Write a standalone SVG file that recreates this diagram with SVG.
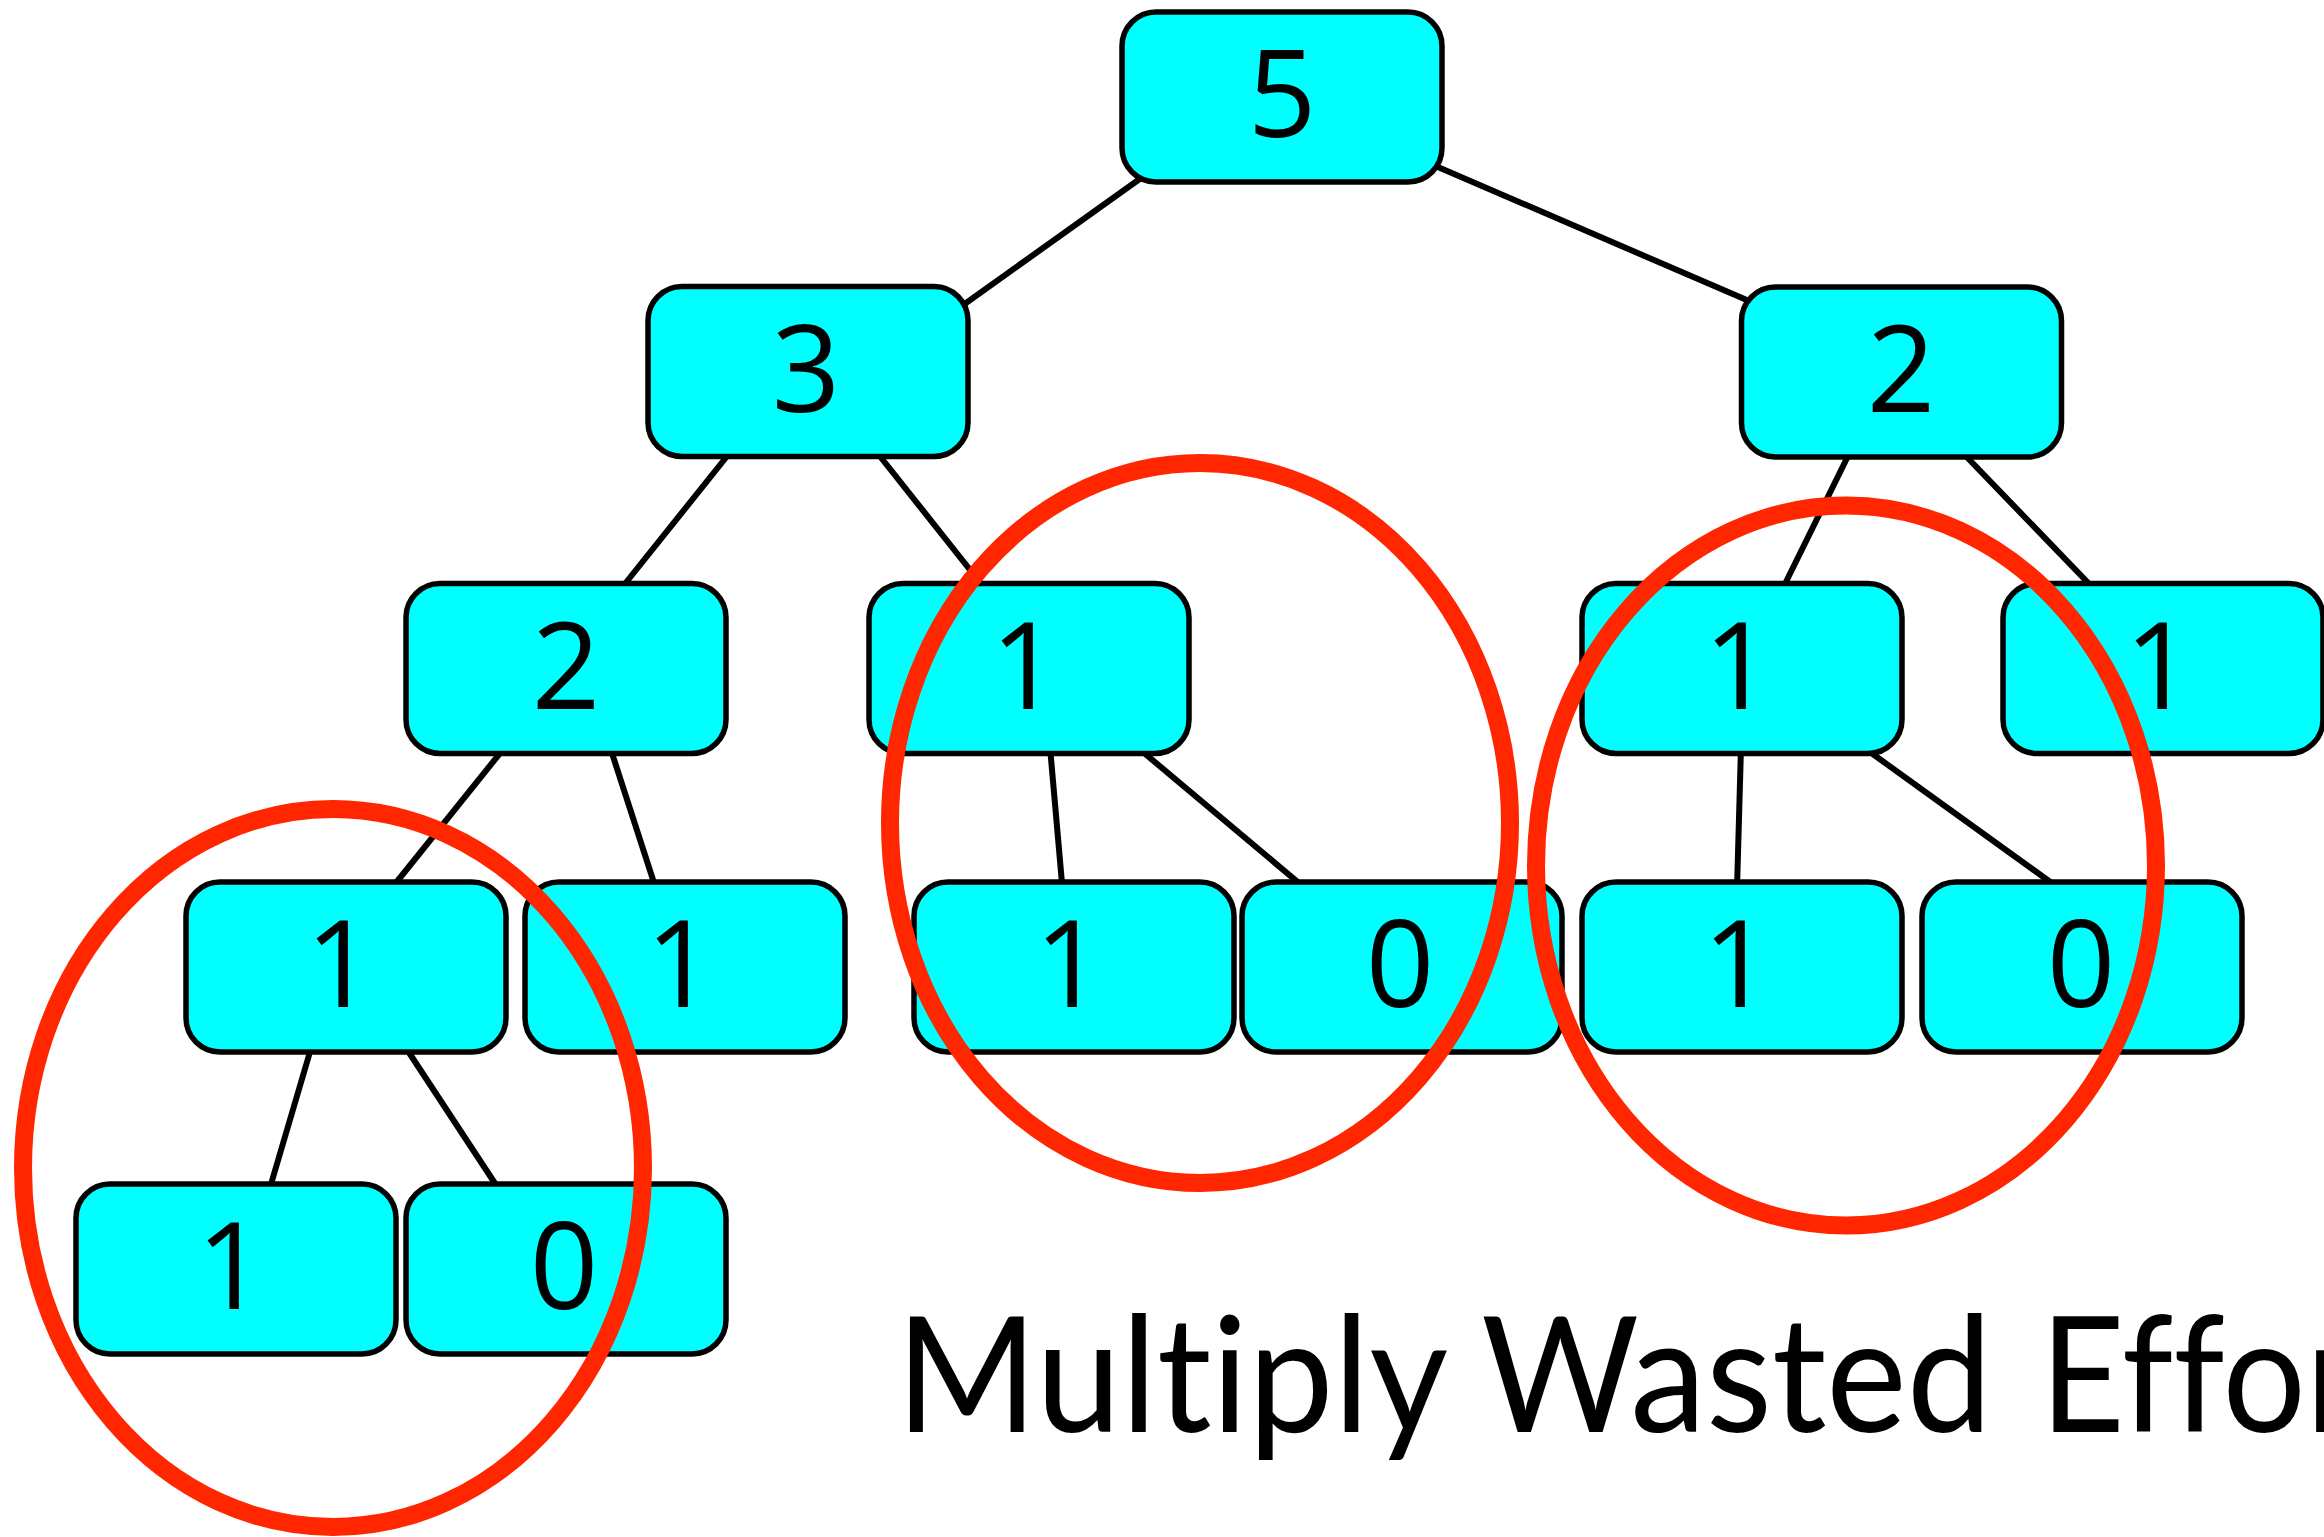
<svg xmlns="http://www.w3.org/2000/svg" width="2324" height="1537" viewBox="0 0 2324 1537">
  <style>
    .box { fill: #00ffff; stroke: #000; stroke-width: 5.5; }
    .num { font-family: "Open Sans", "Noto Sans", "DejaVu Sans", sans-serif; font-size: 120px; fill: #000; text-anchor: middle; }
    .edge { stroke: #000; stroke-width: 6; stroke-linecap: butt; fill: none; }
    .ring { fill: none; stroke: #ff2600; stroke-width: 18; }
    .title { font-family: "Lato", "Liberation Sans", sans-serif; font-size: 162px; fill: #000; font-variant-ligatures: none; }
  </style>
  <rect width="2324" height="1537" fill="#fff"/>

  <!-- tree edges, drawn beneath the boxes -->
  <g id="connectors">
    <line class="edge" x1="1160" y1="164.5" x2="945" y2="318"/>
    <line class="edge" x1="1410" y1="155" x2="1770" y2="310"/>
    <line class="edge" x1="732" y1="450" x2="620" y2="590"/>
    <line class="edge" x1="875" y1="450" x2="986" y2="590"/>
    <line class="edge" x1="1851" y1="450" x2="1782" y2="590"/>
    <line class="edge" x1="1960" y1="450" x2="2095" y2="590"/>
    <line class="edge" x1="505" y1="747" x2="391" y2="889"/>
    <line class="edge" x1="610" y1="747" x2="656" y2="889"/>
    <line class="edge" x1="1050" y1="747" x2="1062.5" y2="889"/>
    <line class="edge" x1="1137" y1="747" x2="1306" y2="889"/>
    <line class="edge" x1="1741" y1="747" x2="1737" y2="889"/>
    <line class="edge" x1="1863" y1="747" x2="2060" y2="889"/>
    <line class="edge" x1="312" y1="1045" x2="269" y2="1191"/>
    <line class="edge" x1="404" y1="1045" x2="500" y2="1191"/>
  </g>

  <!-- level 0 -->
  <g id="n5"><rect class="box" x="1122" y="12" width="320" height="170" rx="34"/><text class="num" x="1282" y="137">5</text></g>
  <!-- level 1 -->
  <g id="n3"><rect class="box" x="648" y="286.5" width="320" height="170" rx="34"/><text class="num" x="806" y="411.5">3</text></g>
  <g id="n2r"><rect class="box" x="1741.5" y="287" width="320" height="170" rx="34"/><text class="num" x="1901" y="412">2</text></g>
  <!-- level 2 -->
  <g id="n2l"><rect class="box" x="406" y="583.5" width="320" height="170" rx="34"/><text class="num" x="566" y="708.5">2</text></g>
  <g id="n1a"><rect class="box" x="869" y="583.5" width="320" height="170" rx="34"/><text class="num" x="1025" y="708.5">1</text></g>
  <g id="n1b"><rect class="box" x="1582" y="583.5" width="320" height="170" rx="34"/><text class="num" x="1738" y="708.5">1</text></g>
  <g id="n1c"><rect class="box" x="2003" y="583.5" width="320" height="170" rx="34"/><text class="num" x="2159" y="708.5">1</text></g>
  <!-- level 3 -->
  <g id="n1d"><rect class="box" x="186" y="882" width="320" height="170" rx="34"/><text class="num" x="340" y="1007">1</text></g>
  <g id="n1e"><rect class="box" x="525" y="882" width="320" height="170" rx="34"/><text class="num" x="680" y="1007">1</text></g>
  <g id="n1f"><rect class="box" x="914" y="882" width="320" height="170" rx="34"/><text class="num" x="1069" y="1007">1</text></g>
  <g id="n0a"><rect class="box" x="1242" y="882" width="320" height="170" rx="34"/><text class="num" x="1400" y="1007">0</text></g>
  <g id="n1g"><rect class="box" x="1582" y="882" width="320" height="170" rx="34"/><text class="num" x="1737" y="1007">1</text></g>
  <g id="n0b"><rect class="box" x="1922" y="882" width="320" height="170" rx="34"/><text class="num" x="2081" y="1007">0</text></g>
  <!-- level 4 -->
  <g id="n1h"><rect class="box" x="76" y="1184" width="320" height="170" rx="34"/><text class="num" x="231" y="1309">1</text></g>
  <g id="n0c"><rect class="box" x="406" y="1184" width="320" height="170" rx="34"/><text class="num" x="564" y="1309">0</text></g>

  <!-- highlighted repeated subtrees -->
  <g id="rings">
    <ellipse class="ring" cx="333" cy="1168" rx="310" ry="359"/>
    <ellipse class="ring" cx="1200" cy="823" rx="310" ry="360"/>
    <ellipse class="ring" cx="1846" cy="865.5" rx="310" ry="360"/>
  </g>

  <text id="caption" class="title" x="896" y="1432"><tspan textLength="1096" lengthAdjust="spacingAndGlyphs">Multiply Wasted</tspan> <tspan x="2040" textLength="372" lengthAdjust="spacingAndGlyphs">Effort</tspan></text>
</svg>
